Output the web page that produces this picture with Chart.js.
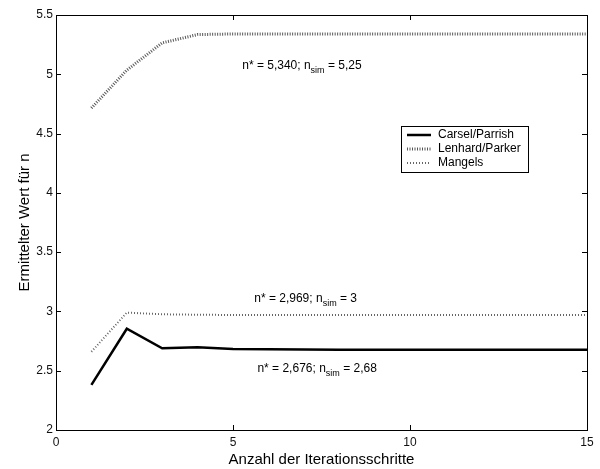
<!DOCTYPE html>
<html>
<head>
<meta charset="utf-8">
<script src="https://cdn.jsdelivr.net/npm/chart.js@4"></script>
<style>
  html, body { margin: 0; padding: 0; background: #fff; }
  #wrap { width: 600px; height: 469px; }
</style>
</head>
<body>
<div id="wrap"><canvas id="c" width="600" height="469"></canvas></div>
<script>
// data
const iterations = [1, 2, 3, 4, 5, 6, 7, 8, 9, 10, 11, 12, 13, 14, 15];
const carselParrish = [2.38, 2.854, 2.689, 2.697, 2.684, 2.68, 2.678, 2.677, 2.676, 2.676, 2.676, 2.676, 2.676, 2.676, 2.676];
const lenhardParker = [4.715, 5.035, 5.265, 5.335, 5.34, 5.34, 5.34, 5.34, 5.34, 5.34, 5.34, 5.34, 5.34, 5.34, 5.34];
const mangels = [2.66, 2.99, 2.976, 2.972, 2.97, 2.969, 2.969, 2.969, 2.969, 2.969, 2.969, 2.969, 2.969, 2.969, 2.969];
const xTicks = [0, 5, 10, 15];
const yTicks = [2, 2.5, 3, 3.5, 4, 4.5, 5, 5.5];
const notes = [
    { x: 5.26, y: 5.07, a: '5,340', b: '5,25' },
    { x: 5.6, y: 3.11, a: '2,969', b: '3' },
    { x: 5.69, y: 2.52, a: '2,676', b: '2,68' }
];

const FONT = 'Liberation Sans, Arial, sans-serif';
const pts = ys => iterations.map((x, i) => ({ x, y: ys[i] }));

// frame + inward ticks, MATLAB style
const framePlugin = {
    id: 'frame',
    afterDatasetsDraw(chart) {
        const { ctx, chartArea: a, scales: { x, y } } = chart;
        ctx.save();
        ctx.strokeStyle = '#000';
        ctx.lineWidth = 1;
        ctx.strokeRect(a.left + 0.5, a.top + 0.5, a.right - a.left, a.bottom - a.top);
        ctx.beginPath();
        xTicks.forEach(v => {
            const px = Math.round(x.getPixelForValue(v)) + 0.5;
            ctx.moveTo(px, a.bottom); ctx.lineTo(px, a.bottom - 5);
            ctx.moveTo(px, a.top); ctx.lineTo(px, a.top + 5);
        });
        yTicks.forEach(v => {
            const py = Math.round(y.getPixelForValue(v)) + 0.5;
            ctx.moveTo(a.left, py); ctx.lineTo(a.left + 5, py);
            ctx.moveTo(a.right, py); ctx.lineTo(a.right - 5, py);
        });
        ctx.stroke();
        ctx.restore();
    }
};

// text notes with subscript
const notesPlugin = {
    id: 'notes',
    afterDatasetsDraw(chart) {
        const { ctx, scales: { x, y } } = chart;
        ctx.save();
        ctx.fillStyle = '#000';
        ctx.textBaseline = 'middle';
        notes.forEach(n => {
            let px = x.getPixelForValue(n.x);
            const py = y.getPixelForValue(n.y);
            const seg = (t, size, dy) => {
                ctx.font = size + 'px ' + FONT;
                ctx.fillText(t, px, py + dy);
                px += ctx.measureText(t).width;
            };
            seg('n* = ' + n.a + '; n', 12, 0);
            seg('sim', 9, 5);
            seg(' = ' + n.b, 12, 0);
        });
        ctx.restore();
    }
};

// legend box inside the plot
const legendPlugin = {
    id: 'boxLegend',
    afterDatasetsDraw(chart) {
        const { ctx } = chart;
        const left = 401, top = 126, w = 127, h = 46;
        ctx.save();
        ctx.fillStyle = '#fff';
        ctx.fillRect(left, top, w, h);
        ctx.strokeStyle = '#000';
        ctx.lineWidth = 1;
        ctx.strokeRect(left + 0.5, top + 0.5, w, h);
        ctx.font = '12px ' + FONT;
        ctx.textBaseline = 'middle';
        chart.data.datasets.forEach((ds, i) => {
            const yy = top + 9 + i * 14;
            ctx.beginPath();
            ctx.strokeStyle = ds.borderColor;
            ctx.lineWidth = ds.borderWidth;
            ctx.setLineDash(ds.borderDash || []);
            ctx.moveTo(left + 6, yy);
            ctx.lineTo(left + 30, yy);
            ctx.stroke();
            ctx.setLineDash([]);
            ctx.fillStyle = '#000';
            ctx.fillText(ds.label, left + 37, yy);
        });
        ctx.restore();
    }
};

new Chart(document.getElementById('c'), {
    type: 'line',
    data: {
        datasets: [
            { label: 'Carsel/Parrish', data: pts(carselParrish), borderColor: '#000', borderWidth: 2.5 },
            { label: 'Lenhard/Parker', data: pts(lenhardParker), borderColor: '#555', borderWidth: 3, borderDash: [1, 1.5] },
            { label: 'Mangels', data: pts(mangels), borderColor: '#666', borderWidth: 2, borderDash: [1, 2] }
        ]
    },
    options: {
        responsive: false,
        animation: false,
        layout: { padding: { top: 15, right: 13, bottom: 0, left: 0 } },
        elements: { point: { radius: 0 }, line: { tension: 0, borderCapStyle: 'butt' } },
        plugins: { legend: { display: false }, tooltip: { enabled: false } },
        scales: {
            x: {
                type: 'linear', min: 0, max: 15,
                afterFit: s => { s.height = 39; },
                afterBuildTicks: s => { s.ticks = xTicks.map(v => ({ value: v })); },
                grid: { display: false, drawTicks: false },
                border: { display: false },
                ticks: { color: '#111', font: { family: FONT, size: 12 }, padding: 5, maxRotation: 0 },
                title: { display: true, text: 'Anzahl der Iterationsschritte', color: '#000', font: { family: FONT, size: 15 }, padding: { top: 0, bottom: 0 } }
            },
            y: {
                type: 'linear', min: 2, max: 5.5,
                afterFit: s => { s.width = 56; },
                afterBuildTicks: s => { s.ticks = yTicks.map(v => ({ value: v })); },
                grid: { display: false, drawTicks: false },
                border: { display: false },
                ticks: { color: '#111', font: { family: FONT, size: 12 }, padding: 3, callback: v => String(v) },
                title: { display: true, text: 'Ermittelter Wert für n', color: '#000', font: { family: FONT, size: 15 }, padding: { top: 16, bottom: 0 } }
            }
        }
    },
    plugins: [framePlugin, notesPlugin, legendPlugin]
});
</script>
</body>
</html>
